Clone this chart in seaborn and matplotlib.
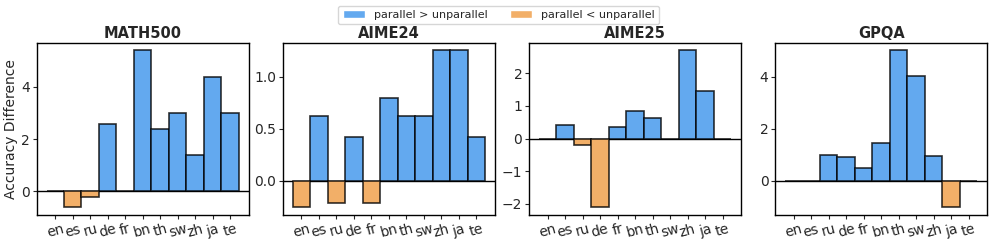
import numpy as np
import pandas as pd
import matplotlib
matplotlib.use("Agg")
import matplotlib.pyplot as plt
import seaborn as sns
from matplotlib.patches import Patch

sns.set_style("white")
plt.rcParams['font.family'] = ['DejaVu Sans']

languages = ["en", "es", "ru", "de", "fr", "bn", "th", "sw", "zh", "ja", "te"]
math500 = [0.0, -0.6, -0.2, 2.6, 0.0, 5.4, 2.4, 3.0, 1.4, 4.4, 3.0]
aime24 = [-0.25, 0.625, -0.208, 0.417, -0.208, 0.792, 0.625, 0.625, 1.25, 1.25, 0.417]
aime25 = [0.0, 0.4, -0.2, -2.1, 0.36, 0.83, 0.62, 0.0, 2.7, 1.45, 0.0]
gpqa = [0.0, 0.0, 0.97, 0.92, 0.48, 1.45, 5.02, 4.02, 0.94, -1.02, 0.0]
titles = ["MATH500", "AIME24", "AIME25", "GPQA"]
series = [math500, aime24, aime25, gpqa]
legend_labels = ["parallel > unparallel", "parallel < unparallel"]

blue = "#63A9EF"
orange = "#F2AF68"

fig, axes = plt.subplots(1, 4, figsize=(9.97, 2.49), dpi=100)
fig.subplots_adjust(left=0.037, right=0.990, top=0.829, bottom=0.137, wspace=0.163)

for ax, title, vals in zip(axes, titles, series):
    df = pd.DataFrame({"lang": languages, "val": vals})
    df["sign"] = np.where(df["val"] < 0, "neg", "pos")
    sns.barplot(data=df, x="lang", y="val", hue="sign", hue_order=["pos", "neg"],
                palette={"pos": blue, "neg": orange}, dodge=False, width=1.0,
                saturation=1, edgecolor=(0, 0, 0, 0.8), linewidth=1.2,
                legend=False, ax=ax, order=languages)
    ax.axhline(0, color="black", linewidth=1.0, zorder=0.5)
    ax.set_title(title, fontsize=10.5, fontweight="bold", pad=3)
    ax.set_xlabel("")
    ax.set_ylabel("")
    ax.set_xlim(-1.05, len(languages) + 0.05)
    ax.tick_params(axis="x", labelsize=10, rotation=15, length=3, pad=2, bottom=True)
    ax.tick_params(axis="y", labelsize=10, length=3, pad=2, left=True)
    for s in ax.spines.values():
        s.set_color("black")
        s.set_linewidth(1.0)

axes[0].set_ylabel("Accuracy Difference", fontsize=10, labelpad=2)

handles = [Patch(facecolor=blue, label=legend_labels[0]),
           Patch(facecolor=orange, label=legend_labels[1])]
fig.legend(handles=handles, loc="upper center", ncol=2, fontsize=8,
           bbox_to_anchor=(0.5, 1.0), frameon=True)

fig.savefig("out.png", dpi=100)
